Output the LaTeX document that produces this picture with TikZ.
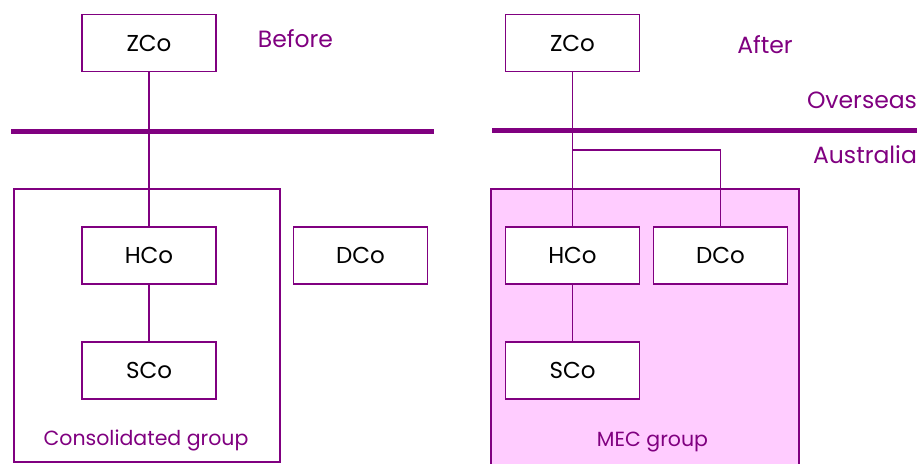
\documentclass[tikz,border=0pt]{standalone}
\usepackage{fontspec}
\setmainfont{Poppins}
\definecolor{grpline}{HTML}{800080}
\definecolor{grpfill}{HTML}{FFCCFF}
\tikzset{
  company/.style={draw=grpline,line width=1.3pt,fill=white,minimum width=134pt,
    minimum height=57pt,inner sep=0pt,font=\fontsize{23}{26}\selectfont},
  label/.style={text=grpline,inner sep=0pt,anchor=base,font=\fontsize{23.5}{26}\selectfont},
  grouplabel/.style={label,font=\fontsize{20.5}{24}\selectfont},
  link/.style={draw=grpline,line width=1.5pt},
  border/.style={grpline,line width=5pt}
}
\begin{document}
\begin{tikzpicture}
  [x=1pt,y=-1pt]
  \useasboundingbox (0,0) rectangle (917,463);
  % before
  \draw[grpline,line width=1.3pt] (14,189) rectangle (280,462);
  \draw[border] (11,131) -- (434,131);
  \node[company] (zb) at (149,43) {ZCo};
  \node[company] (hb) at (149,255.5) {HCo};
  \node[company] (sb) at (149,370.5) {SCo};
  \node[company] (db) at (360.5,255.5) {DCo};
  \node[label] (lbefore) at (295.5,47) {Before};
  \node[grouplabel] (lcons) at (146,445) {Consolidated group};
  \foreach \from/\to in {zb/hb,hb/sb}
    \draw[link] (\from) -- (\to);
  % after
  \draw[grpline,line width=1.3pt,fill=grpfill] (491,189) rectangle (799,466);
  \draw[border] (492,130) -- (917,130);
  \node[company] (za) at (572.5,43) {ZCo};
  \node[company] (ha) at (572.5,255.5) {HCo};
  \node[company] (sa) at (572.5,370.5) {SCo};
  \node[company] (da) at (720.5,255.5) {DCo};
  \node[label] (lafter) at (765,53) {After};
  \node[label] (lover) at (862,108) {Overseas};
  \node[label] (laus) at (865,163) {Australia};
  \node[grouplabel] (lmec) at (652.5,446) {MEC group};
  \coordinate (tee) at (572.5,150);
  \foreach \from/\to in {za/ha,ha/sa}
    \draw[link] (\from) -- (\to);
  \draw[link] (tee) -| (da);
\end{tikzpicture}
\end{document}
